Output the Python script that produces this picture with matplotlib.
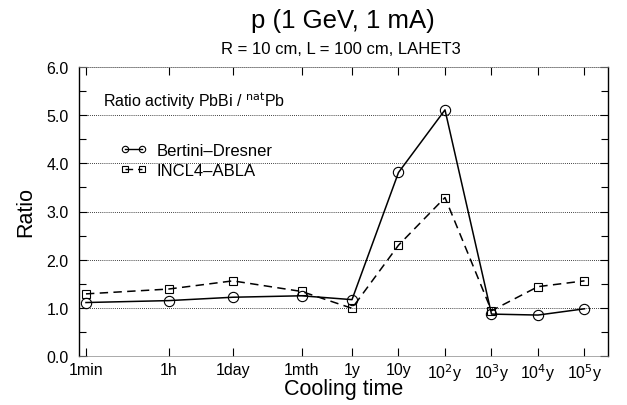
import matplotlib
matplotlib.use("Agg")
import matplotlib.pyplot as plt
import numpy as np

plt.rcParams['font.family'] = ['Liberation Sans', 'DejaVu Sans']

# cooling times in minutes
tick_labels = ["1min", "1h", "1day", "1mth", "1y", "10y", "10$^2$y", "10$^3$y", "10$^4$y", "10$^5$y"]
MIN_PER_YEAR = 525960.0
times_min = [1.0, 60.0, 1440.0, 43200.0, MIN_PER_YEAR, 10 * MIN_PER_YEAR,
             1e2 * MIN_PER_YEAR, 1e3 * MIN_PER_YEAR, 1e4 * MIN_PER_YEAR, 1e5 * MIN_PER_YEAR]

bertini = [1.11, 1.15, 1.22, 1.25, 1.17, 3.81, 5.11, 0.87, 0.85, 0.98]
incl4 = [1.29, 1.39, 1.56, 1.34, 0.99, 2.30, 3.29, 0.94, 1.44, 1.56]

W, H = 627, 406
fig = plt.figure(figsize=(W / 100, H / 100), dpi=100)
ax = fig.add_axes([79 / W, 1 - 357 / H, (607.7 - 79) / W, (357 - 68) / H])

ax.set_xscale('log')
ax.set_xlim(10 ** -0.15, 10 ** 11.22)
ax.set_ylim(0, 6)

for yv in [0, 1, 2, 3, 4, 5, 6]:
    ax.axhline(yv, color='black', lw=0.6, ls=(0, (1, 1.5)), zorder=1)

ax.plot(times_min, bertini, color='black', lw=1.1, ls='-', marker='o', ms=7.4,
        mfc='none', mec='black', mew=0.8, label='Bertini–Dresner', zorder=3)
ax.plot(times_min, incl4, color='black', lw=1.1, ls=(0, (5.5, 3.5)), marker='s', ms=5.5,
        mfc='none', mec='black', mew=0.8, label='INCL4–ABLA', zorder=3)

ax.set_xticks(times_min)
ax.set_xticklabels(tick_labels)
ax.xaxis.set_minor_locator(matplotlib.ticker.NullLocator())
ax.set_yticks([0, 1, 2, 3, 4, 5, 6])
ax.set_yticklabels(["0.0", "1.0", "2.0", "3.0", "4.0", "5.0", "6.0"])
ax.set_yticks(np.arange(0.5, 6, 1.0), minor=True)
ax.tick_params(axis='both', which='both', direction='in', top=True, right=True,
               labelsize=11.5)
ax.tick_params(axis='x', which='major', length=6, width=0.8, pad=4)
ax.tick_params(axis='y', which='major', length=6, width=0.8, pad=7.5)
ax.tick_params(axis='y', which='minor', length=5, width=0.8)

for side in ['left', 'right']:
    ax.spines[side].set_linewidth(1.0)
for side in ['top', 'bottom']:
    ax.spines[side].set_linewidth(0.5)
    ax.spines[side].set_color('#888888')

ax.set_xlabel("Cooling time", fontsize=15.5)
ax.xaxis.set_label_coords(0.5, (357 - 379.5) / 289)
ax.set_ylabel("Ratio", fontsize=15.5, labelpad=7)

fig.text(343 / W, 1 - 21 / H, "p (1 GeV, 1 mA)", fontsize=18.5, ha='center', va='center')
fig.text(341 / W, 1 - 49 / H, "R = 10 cm, L = 100 cm, LAHET3", fontsize=12, ha='center', va='center')

ax.text(0.045, 0.887, "Ratio activity PbBi / $^{\\mathrm{nat}}$Pb", transform=ax.transAxes,
        fontsize=11.5, ha='left', va='center')

leg = ax.legend(loc='upper left', bbox_to_anchor=(0.0775, 0.736), frameon=False, numpoints=2,
                handlelength=1.62, handletextpad=0.6, labelspacing=0.26, fontsize=12,
                borderaxespad=0, borderpad=0)
for h in leg.legend_handles:
    h.set_markersize(4.6)
    h.set_linewidth(1.0)

fig.savefig("out.png", dpi=100)
